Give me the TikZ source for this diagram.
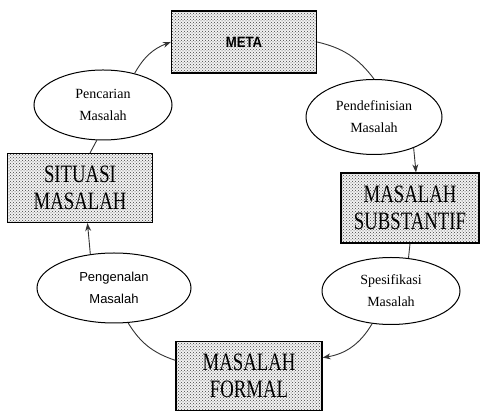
\documentclass[tikz,border=0pt]{standalone}
\usepackage{fontspec}
\setmainfont{Liberation Serif}
\newfontfamily\arialfont{Liberation Sans}
\usetikzlibrary{calc, shapes.geometric, patterns, arrows.meta}

\newcommand{\squash}[1]{\scalebox{0.75}[1]{#1}}

\tikzset{
  box/.style={draw, line width=1.3pt, rectangle, inner sep=0pt,
    preaction={fill=gray!10}, pattern=crosshatch dots, pattern color=black!75,
    font=\fontsize{25}{27}\selectfont, align=center},
  oval/.style={draw, line width=1pt, ellipse, inner sep=0pt, fill=white,
    font=\fontsize{14}{22}\selectfont, align=center},
  link/.style={draw=black!80, line width=0.9pt},
  arr/.style={link, -{Stealth[length=8pt,width=6pt]}}
}

\begin{document}
\begin{tikzpicture}[x=1pt, y=1pt]
  \useasboundingbox (0,0) rectangle (482,417);

  % Boxes
  \node (Meta) at (244,375) [box, minimum width=145, minimum height=62,
    font=\arialfont\bfseries\fontsize{15}{17}\selectfont]
    {\scalebox{0.88}[1]{META}};
  \node (Substantif) at (410,209) [box, minimum width=138, minimum height=70]
    {\squash{MASALAH}\\\squash{SUBSTANTIF}};
  \node (Formal) at (249,41) [box, minimum width=146, minimum height=69]
    {\squash{MASALAH}\\\squash{FORMAL}};
  \node (Situasi) at (80,229) [box, minimum width=145, minimum height=69]
    {\squash{SITUASI}\\\squash{MASALAH}};

  % Ellipses
  \node (Pencarian) at (103,312) [oval, minimum width=138, minimum height=70]
    {Pencarian\\Masalah};
  \node (Pendefinisian) at (374,300) [oval, minimum width=136, minimum height=75]
    {Pendefinisian\\Masalah};
  \node (Spesifikasi) at (391,126) [oval, minimum width=138, minimum height=67]
    {Spesifikasi\\Masalah};
  \node (Pengenalan) at (114,129) [oval, minimum width=154, minimum height=70,
    font=\arialfont\fontsize{13}{22}\selectfont] {Pengenalan\\Masalah};

  % Cycle
  \draw[arr] (Pencarian.45) to[bend left=20] (Meta.west);
  \draw[link] (Meta.east) to[bend left=20] (Pendefinisian.north);
  \draw[arr] (Pendefinisian.-38) -- ($(Substantif.north)+(6,0)$);
  \draw[link] (Substantif.south) -- (Spesifikasi.62);
  \draw[arr] (Spesifikasi.-120) to[bend left=25] (Formal.14);
  \draw[link] (Formal.168) to[bend left=20] (Pengenalan.-68);
  \draw[arr] (Pengenalan.125) -- (Situasi.-78);
  \draw[link] (Situasi.74) -- (Pencarian.-100);

\end{tikzpicture}
\end{document}
